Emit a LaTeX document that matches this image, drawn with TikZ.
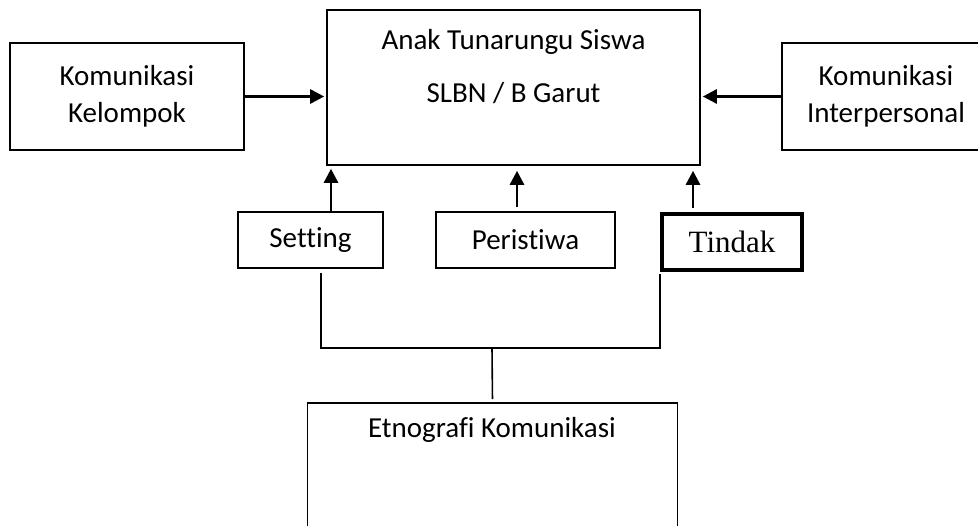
\documentclass[tikz,border=0pt]{standalone}
\usepackage{fontspec}
\setmainfont{Carlito}[Ligatures=NoCommon]
\newfontfamily\tindakfont{Liberation Serif}
\usetikzlibrary{arrows.meta}

\begin{document}
\begin{tikzpicture}[x=0.5pt, y=-0.5pt,
    box/.style={draw, line width=0.8pt, inner sep=0pt, font=\fontsize{14.5}{18.5}\selectfont, align=center},
    arr/.style={line width=1.3pt, -{Triangle[length=7pt,width=7pt]}}]

  \useasboundingbox (0,0) rectangle (978,525);
  \clip (0,0) rectangle (978,525);
  \fill[white] (0,0) rectangle (978,525);

  % top row
  \node[box, minimum width=117pt, minimum height=53.5pt] (kelompok) at (127,96.5) {Komunikasi\\Kelompok};
  \node[box, minimum width=186.5pt, minimum height=77.5pt] (anak) at (513.5,87.5) {};
  \node[font=\fontsize{14.5}{26.5}\selectfont, align=center] (anaktxt) at (513.5,67) {Anak Tunarungu Siswa\\SLBN / B Garut};
  \node[box, minimum width=104pt, minimum height=53.5pt] (inter) at (886,96.5) {Komunikasi\\Interpersonal};

  % middle row
  \node[box, minimum width=72.5pt, minimum height=28pt] (setting) at (310.5,240) {Setting};
  \node[box, minimum width=89.5pt, minimum height=28pt] (peristiwa) at (525.5,240) {Peristiwa};
  \node[box, line width=2pt, minimum width=70pt, minimum height=28pt, font=\tindakfont\fontsize{15.5}{18}\selectfont] (tindak) at (732,242) {Tindak};

  % bottom
  \node[box, minimum width=185pt, minimum height=80pt, anchor=north] (etno) at (492.5,402) {};
  \node[font=\fontsize{14.5}{18}\selectfont] (etnotxt) at (492,430) {Etnografi Komunikasi};

  \draw[arr, shorten >=1pt] (kelompok.east) -- (kelompok.east -| anak.west);
  \draw[arr, shorten >=1pt] (inter.west) -- (inter.west -| anak.east);

  \coordinate (sa) at ([xshift=10.25pt]setting.north);
  \coordinate (pa) at ([xshift=-4.25pt]peristiwa.north);
  \coordinate (ta) at ([xshift=-19.5pt]tindak.north);
  \draw[arr, shorten >=1.5pt] (sa) -- (sa |- anak.south);
  \draw[arr, shorten <=2pt, shorten >=2.5pt] (pa) -- (pa |- anak.south);
  \draw[arr, shorten <=2pt, shorten >=2.5pt] (ta) -- (ta |- anak.south);

  \coordinate (jn) at (492,348);
  \coordinate (sb) at ([xshift=5.25pt,yshift=-2pt]setting.south);
  \coordinate (tb) at ([xshift=-36pt,yshift=-1pt]tindak.south);
  \draw[line width=0.8pt] (sb) |- (jn) -| (tb);
  \draw[line width=0.8pt, shorten >=1.5pt] (jn) -- (etno.north);
\end{tikzpicture}
\end{document}
